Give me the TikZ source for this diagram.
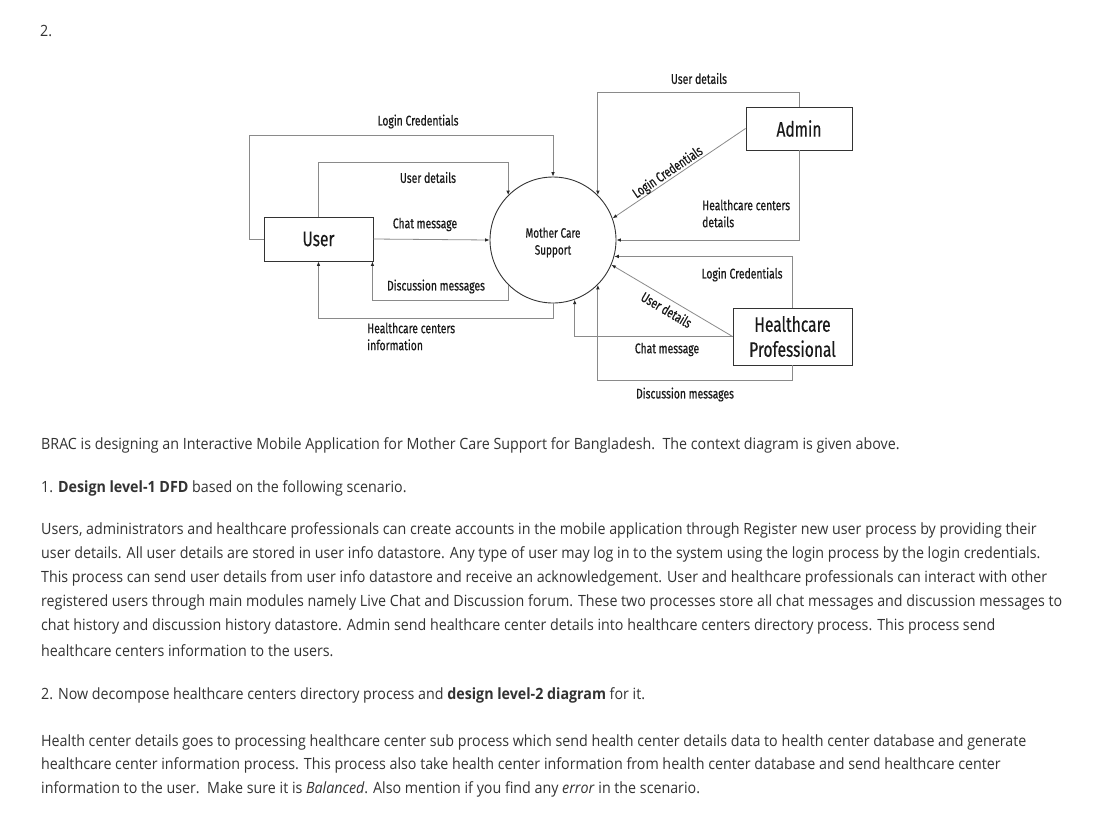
\documentclass[tikz,border=0pt]{standalone}
\usepackage{fontspec}
\setmainfont[FakeStretch=0.92]{Open Sans}
\newfontfamily\dfont[FakeStretch=0.74,FakeBold=0.35]{Fira Sans}
\usetikzlibrary{arrows.meta}
\definecolor{txt}{HTML}{333333}
\definecolor{ln}{HTML}{8A8A8A}
\begin{document}
\begin{tikzpicture}[x=1pt,y=-1pt,
  flow/.style={draw=ln, line width=0.8pt, -{Latex[length=4.5pt,width=3.6pt,color=black!85]}},
  ent/.style={draw=black!80, line width=0.9pt, font=\dfont\fontsize{21}{25}\selectfont, text=black!90, inner sep=0, align=center},
  lbl/.style={font=\dfont\fontsize{14}{17}\selectfont, text=black!90, inner sep=0, yshift=-1.5pt},
  para/.style={anchor=west, inner sep=0, font=\fontsize{15.5}{20}\selectfont, text=txt, yshift=-1.5pt}
]
\useasboundingbox (0,0) rectangle (1100,815);
\fill[white] (0,0) rectangle (1100,815);

% entities and process
\node[draw=black!80, line width=0.9pt, circle, minimum size=126pt, inner sep=0] (mcs) at (553,240) {};
\node[lbl, align=center, font=\dfont\fontsize{13.5}{17}\selectfont] (mcst) at (553,241) {Mother Care\\Support};
\node[ent, minimum width=109pt, minimum height=44pt] (user) at (318.5,239) {User};
\node[ent, minimum width=106pt, minimum height=43pt] (admin) at (799,128.5) {Admin};
\node[ent, minimum width=119pt, minimum height=57pt] (hp) at (792.5,336.5) {Healthcare\\Professional};

% user flows
\draw[flow] (user.west) -- (249,239) |- (553,135) -- (mcs.north);
\draw[flow] (user.north) |- (mcs.135 |- 0,162) -- (mcs.135);
\draw[flow] (user.east) -- (mcs.west);
\draw[flow] (mcs.225) -- (mcs.225 |- 0,300) -| ([xshift=-1pt]user.south east);
\draw[flow] (mcs.south) -- (mcs.south |- 0,318) -| (user.south);

% admin flows
\draw[flow] (admin.north) -- (admin.north |- 0,92) -| (mcs.45);
\draw[flow] (admin.west) -- (mcs.20) node[lbl, pos=0.555, above=1pt, sloped, yshift=0pt] {Login Credentials};
\draw[flow] (admin.south) |- (mcs.east);

% healthcare professional flows
\draw[flow] (hp.north) |- (mcs.-15);
\draw[flow] (hp.west) -- (mcs.-23) node[lbl, pos=0.5, below=3pt, sloped, yshift=0pt] {User details};
\draw[flow] (hp.west) -| (mcs.-70);
\draw[flow] (hp.south) -- (hp.south |- 0,380) -| (mcs.-45);

% flow labels
\node[lbl] (l1) at (418,120) {Login Credentials};
\node[lbl] (l2) at (428,176) {User details};
\node[lbl] (l3) at (425,223) {Chat message};
\node[lbl] (l4) at (436,285) {Discussion messages};
\node[lbl, anchor=north west, align=left] (l5) at (367,321) {Healthcare centers\\information};
\node[lbl] (l6) at (699,77) {User details};
\node[lbl, anchor=north west, align=left] (l7) at (702,198) {Healthcare centers\\details};
\node[lbl] (l8) at (742,273) {Login Credentials};
\node[lbl] (l9) at (667,348) {Chat message};
\node[lbl] (l10) at (685,393) {Discussion messages};

% text
\node[para] (t0) at (40,29.5) {2.};
\node[para] (t1) at (41,444) {BRAC is designing an Interactive Mobile Application for Mother Care Support for Bangladesh.\ \ The context diagram is given above.};
\node[para] (t2) at (41,487) {1. \textbf{Design level-1 DFD} based on the following scenario.};
\node[para] (p1) at (41,529) {Users, administrators and healthcare professionals can create accounts in the mobile application through Register new user process by providing their};
\node[para] (p2) at (41,553) {user details. All user details are stored in user info datastore. Any type of user may log in to the system using the login process by the login credentials.};
\node[para] (p3) at (41,577) {This process can send user details from user info datastore and receive an acknowledgement. User and healthcare professionals can interact with other};
\node[para] (p4) at (41,601) {registered users through main modules namely Live Chat and Discussion forum. These two processes store all chat messages and discussion messages to};
\node[para] (p5) at (41,625) {chat history and discussion history datastore. Admin send healthcare center details into healthcare centers directory process. This process send};
\node[para] (p6) at (41,649) {healthcare centers information to the users.};
\node[para] (t3) at (41,694) {2. Now decompose healthcare centers directory process and \textbf{design level-2 diagram} for it.};
\node[para] (q1) at (41,741) {Health center details goes to processing healthcare center sub process which send health center details data to health center database and generate};
\node[para] (q2) at (41,764) {healthcare center information process. This process also take health center information from health center database and send healthcare center};
\node[para] (q3) at (41,788) {information to the user.\ \ Make sure it is \emph{Balanced}. Also mention if you find any \emph{error} in the scenario.};
\end{tikzpicture}
\end{document}
